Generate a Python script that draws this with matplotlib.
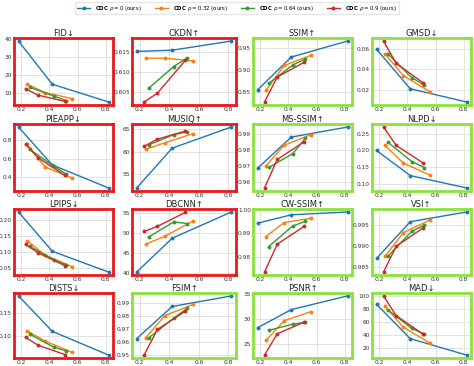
import matplotlib
matplotlib.use("Agg")
import matplotlib.pyplot as plt

# bpp of each model variant
x_blue = [0.18, 0.42, 0.82]
x_orange = [0.24, 0.37, 0.56]
x_green = [0.26, 0.43, 0.52]
x_red = [0.23, 0.32, 0.51]

labels = [r"$\bf{CDC}$ $\rho=0$ (ours)", r"$\bf{CDC}$ $\rho=0.32$ (ours)",
          r"$\bf{CDC}$ $\rho=0.64$ (ours)", r"$\bf{CDC}$ $\rho=0.9$ (ours)"]
colors = ["#1f77b4", "#ff7f0e", "#2ca02c", "#d62728"]

titles = ["FID↓", "CKDN↑", "SSIM↑", "GMSD↓",
          "PIEAPP↓", "MUSIQ↑", "MS-SSIM↑", "NLPD↓",
          "LPIPS↓", "DBCNN↑", "CW-SSIM↑", "VSI↑",
          "DISTS↓", "FSIM↑", "PSNR↑", "MAD↓"]
bad = ["FID↓", "CKDN↑", "PIEAPP↓", "MUSIQ↑", "LPIPS↓", "DBCNN↑", "DISTS↓"]

# values per metric: blue, orange, green, red
fid = [[39, 14.7, 4.7], [14.8, 10.0, 6.6], [13.0, 8.0, 5.5], [12.2, 8.5, 5.0]]
ckdn = [[0.6152, 0.6155, 0.6178], [0.6135, 0.6135, 0.6128], [0.6059, 0.6114, 0.6135], [0.6025, 0.6047, 0.6130]]
ssim = [[0.855, 0.929, 0.965], [0.854, 0.910, 0.933], [0.870, 0.911, 0.925], [0.828, 0.884, 0.917]]
gmsd = [[0.060, 0.021, 0.008], [0.0555, 0.034, 0.018], [0.0555, 0.032, 0.0245], [0.068, 0.046, 0.027]]
pieapp = [[0.94, 0.533, 0.285], [0.755, 0.51, 0.393], [0.70, 0.52, 0.433], [0.755, 0.61, 0.42]]
musiq = [[51.9, 60.8, 65.5], [60.5, 62.0, 64.0], [61.5, 63.8, 64.4], [61.2, 62.8, 64.6]]
msssim = [[0.9685, 0.988, 0.9943], [0.970, 0.983, 0.9895], [0.969, 0.9776, 0.9872], [0.9562, 0.974, 0.985]]
nlpd = [[0.200, 0.125, 0.088], [0.215, 0.163, 0.126], [0.225, 0.167, 0.149], [0.270, 0.215, 0.163]]
lpips = [[0.227, 0.102, 0.036], [0.136, 0.090, 0.053], [0.118, 0.075, 0.059], [0.124, 0.097, 0.056]]
dbcnn = [[40.2, 48.7, 55.3], [47.2, 49.2, 53.0], [49.0, 52.8, 52.4], [50.4, 51.7, 55.2]]
cwssim = [[0.9943, 0.9979, 0.9991], [0.9886, 0.9946, 0.9964], [0.9843, 0.9931, 0.9951], [0.9734, 0.9853, 0.9929]]
vsi = [[0.9871, 0.9958, 0.9981], [0.9876, 0.9932, 0.9962], [0.9876, 0.9935, 0.9950], [0.9839, 0.9900, 0.9943]]
dists = [[0.187, 0.111, 0.060], [0.112, 0.090, 0.066], [0.105, 0.077, 0.069], [0.098, 0.081, 0.061]]
fsim = [[0.9625, 0.987, 0.995], [0.963, 0.980, 0.9885], [0.963, 0.978, 0.9855], [0.950, 0.9695, 0.9835]]
psnr = [[28.3, 31.9, 34.6], [25.8, 29.7, 31.5], [27.8, 29.0, 29.4], [22.9, 27.1, 29.4]]
mad = [[87.3, 35.0, 10.0], [84.0, 52.6, 28.1], [79.0, 50.6, 42.0], [100.0, 70.0, 42.0]]

values = [fid, ckdn, ssim, gmsd, pieapp, musiq, msssim, nlpd,
          lpips, dbcnn, cwssim, vsi, dists, fsim, psnr, mad]

yticks = [
    ["10", "20", "30", "40"], ["0.605", "0.610", "0.615"], ["0.85", "0.90", "0.95"], ["0.02", "0.04", "0.06"],
    ["0.4", "0.6", "0.8"], ["55", "60", "65"], ["0.96", "0.97", "0.98", "0.99"], ["0.10", "0.15", "0.20", "0.25"],
    ["0.05", "0.10", "0.15", "0.20"], ["40", "45", "50", "55"], ["0.98", "0.99", "1.00"], ["0.985", "0.990", "0.995"],
    ["0.10", "0.15"], ["0.95", "0.96", "0.97", "0.98", "0.99"], ["25", "30", "35"], ["20", "40", "60", "80", "100"],
]
xticks = [0.2, 0.4, 0.6, 0.8]

W, H = 474, 366
fig = plt.figure(figsize=(W / 100, H / 100), dpi=100)

lefts = [14, 132, 253, 372]
rights = [113, 236, 352, 471]
tops = [38, 124, 209, 293]
bottoms = [105, 191, 275, 358]

xs = [x_blue, x_orange, x_green, x_red]
for i in range(16):
    r, c = divmod(i, 4)
    ax = fig.add_axes([lefts[c] / W, 1 - bottoms[r] / H,
                       (rights[c] - lefts[c]) / W, (bottoms[r] - tops[r]) / H])
    for k in range(4):
        ax.plot(xs[k], values[i][k], color=colors[k], marker="o", markersize=1.8,
                linewidth=1, label=labels[k])
    ax.set_xticks(xticks)
    ax.set_xticklabels(["0.2", "0.4", "0.6", "0.8"])
    ax.set_yticks([float(t) for t in yticks[i]])
    ax.set_yticklabels(yticks[i])
    ax.grid(True, color="#dddddd", linewidth=0.6)
    ax.set_axisbelow(True)
    ax.tick_params(length=0, labelsize=4.2, pad=1.5, colors="#333333")
    ax.set_title(titles[i], fontsize=6, pad=1.5, color="#222222")
    edge = "#e8191c" if titles[i] in bad else "#8be23c"
    for s in ax.spines.values():
        s.set_color(edge)
        s.set_linewidth(2)
    if i == 0:
        handles, labs = ax.get_legend_handles_labels()

fig.legend(handles, labs, loc="upper center", bbox_to_anchor=(0.5, 1.003), ncol=4,
           fontsize=3.9, frameon=True, edgecolor="#e0e0e0", handlelength=2.4,
           columnspacing=2.4, borderpad=0.35, handletextpad=0.9)

fig.savefig("out.png", dpi=100)
